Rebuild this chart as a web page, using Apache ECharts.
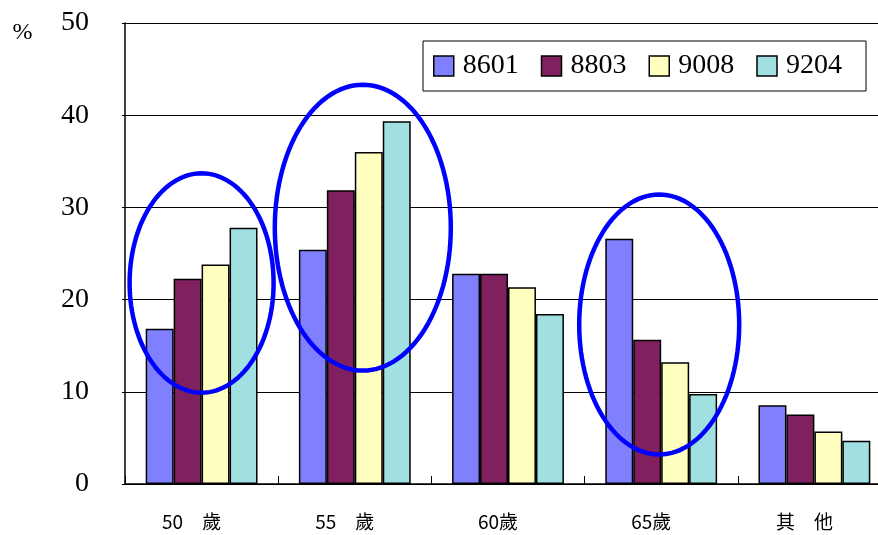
<!DOCTYPE html>
<html>
<head>
<meta charset="utf-8">
<script src="https://cdn.jsdelivr.net/npm/echarts@6/dist/echarts.min.js"></script>
<style>
    html, body { margin: 0; padding: 0; background: #fff; overflow: hidden; }
    /* the plot runs past the right edge of the picture, as in the original */
    #chart { width: 891px; height: 535px; }
</style>
</head>
<body>
<div id="chart"></div>
<script>
const categories = ['50　歲', '55　歲', '60歲', '65歲', '其　他']
const s8601 = [16.85, 25.4, 22.8, 26.6, 8.55]
const s8803 = [22.25, 31.85, 22.8, 15.65, 7.55]
const s9008 = [23.8, 36.0, 21.35, 13.2, 5.7]
const s9204 = [27.8, 39.35, 18.45, 9.75, 4.7]
const yTicks = [0, 10, 20, 30, 40, 50]

// circled groups: [category index, x shift (px), centre value, half width (px), half height (value units)]
const circles = [
    [0, 0, 21.8, 72, 11.9],
    [1, 8, 27.8, 88, 15.5],
    [3, -2, 17.3, 80, 14.1]
]

const chart = echarts.init(document.getElementById('chart'))
const bar = (name, data, color) => ({
    name: name,
    type: 'bar',
    data: data,
    barGap: 0,
    barCategoryGap: '27%',
    itemStyle: { color: color, borderColor: '#000', borderWidth: 1.5 }
})

chart.setOption({
    animation: false,
    grid: { left: 125, top: 23, bottom: 51, right: 0 },
    legend: {
        left: 423,
        top: 41,
        padding: [11, 24, 11, 10],
        borderColor: '#000',
        borderWidth: 1,
        itemWidth: 20,
        itemHeight: 20,
        itemGap: 22,
        icon: 'rect',
        itemStyle: { borderColor: '#000', borderWidth: 1.5 },
        textStyle: { fontFamily: 'Liberation Serif', fontSize: 28, color: '#000', padding: [0, 0, 0, 4] },
        data: ['8601', '8803', '9008', '9204']
    },
    xAxis: {
        type: 'category',
        data: categories,
        axisLine: { lineStyle: { color: '#000', width: 1.5 } },
        axisTick: { show: true, inside: true, length: 8, lineStyle: { color: '#000' } },
        axisLabel: {
            fontFamily: 'Noto Sans CJK TC', fontSize: 19, color: '#000', margin: 28,
            padding: [0, 20, 0, 0]
        }
    },
    yAxis: {
        type: 'value',
        min: yTicks[0],
        max: yTicks[yTicks.length - 1],
        interval: 10,
        name: '%',
        nameLocation: 'end',
        nameGap: 0,
        nameTextStyle: { fontFamily: 'Liberation Serif', fontSize: 24, color: '#000', padding: [0, 0, -22, -205] },
        axisLine: { show: true, lineStyle: { color: '#000', width: 1.5 } },
        axisTick: { show: true, length: 3, lineStyle: { color: '#000' } },
        splitLine: { lineStyle: { color: '#000', width: 1 } },
        axisLabel: { fontFamily: 'Liberation Serif', fontSize: 28, color: '#000', margin: 36 }
    },
    series: [
        bar('8601', s8601, '#8080ff'),
        bar('8803', s8803, '#80205e'),
        bar('9008', s9008, '#ffffc0'),
        bar('9204', s9204, '#a0e0e0')
    ]
})

// blue ellipses drawn around the highlighted groups
const ellipse = (cx, cy, rx, ry) => {
    const pts = []
    for (let i = 0; i < 120; i++) {
        const a = i / 120 * Math.PI * 2
        pts.push([cx + rx * Math.cos(a), cy + ry * Math.sin(a)])
    }
    return pts
}
const graphics = circles.map(c => {
    const p = chart.convertToPixel({ seriesIndex: 0 }, [c[0], c[2]])
    const top = chart.convertToPixel({ seriesIndex: 0 }, [c[0], c[2] + c[4]])
    const cx = chart.convertToPixel({ xAxisIndex: 0 }, c[0]) + c[1]
    return {
        type: 'polygon',
        shape: { points: ellipse(cx, p[1], c[3], p[1] - top[1]) },
        style: { fill: 'none', stroke: '#0000ff', lineWidth: 4.5 },
        z: 100
    }
})
chart.setOption({ graphic: graphics })
</script>
</body>
</html>
